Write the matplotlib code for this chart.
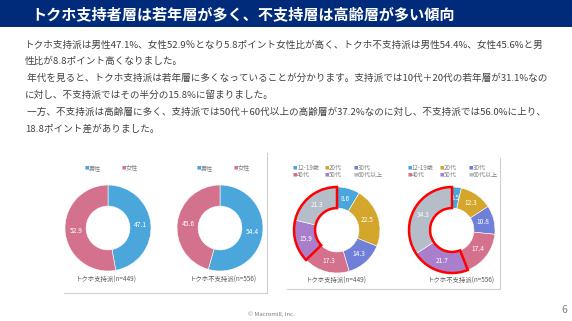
import matplotlib
matplotlib.use("Agg")
import matplotlib.pyplot as plt
from matplotlib.patches import Wedge, Rectangle
from matplotlib.lines import Line2D

plt.rcParams['font.family'] = ['Noto Sans CJK JP', 'DejaVu Sans']

# ---------------- data ----------------
title = "トクホ支持者層は若年層が多く、不支持層は高齢層が多い傾向"
body_lines = [
    "トクホ支持派は男性47.1%、女性52.9％となり5.8ポイント女性比が高く、トクホ不支持派は男性54.4%、女性45.6%と男",
    "性比が8.8ポイント高くなりました。",
    " 年代を見ると、トクホ支持派は若年層に多くなっていることが分かります。支持派では10代＋20代の若年層が31.1%なの",
    "に対し、不支持派ではその半分の15.8%に留まりました。",
    " 一方、不支持派は高齢層に多く、支持派では50代＋60代以上の高齢層が37.2%なのに対し、不支持派では56.0%に上り、",
    "18.8ポイント差がありました。",
]
gender_labels = ["男性", "女性"]
gender_support = [47.1, 52.9]
gender_nonsupport = [54.4, 45.6]
age_labels = ["12-19歳", "20代", "30代", "40代", "50代", "60代以上"]
age_support = [8.6, 22.5, 14.3, 17.3, 15.9, 21.3]
age_nonsupport = [3.5, 12.3, 10.8, 17.4, 21.7, 34.3]
group_names = ["トクホ支持派(n=449)", "トクホ不支持派(n=556)"]

gender_colors = ["#4BA6DB", "#D4718C"]
age_colors = ["#4BA6DB", "#D4A72C", "#7080D8", "#D4718C", "#A97FCC", "#B4BDC8"]

W, H = 572, 321
fig = plt.figure(figsize=(W / 100, H / 100), dpi=100)
fig.patch.set_facecolor("white")

def fx(x):
    return x / W

def fy(y):
    return 1 - y / H

# title bar
fig.patches.append(Rectangle((0, fy(27)), 1, 27 / H, transform=fig.transFigure,
                             facecolor="#002B7A", edgecolor="none", zorder=0))
fig.text(fx(31), fy(14), title, color="white", fontsize=10.9, fontweight="bold",
         va="center", ha="left")

# body text
for i, line in enumerate(body_lines):
    fig.text(fx(25), fy(45 + i * 16.8), line, color="#404040", fontsize=6.9,
             va="center", ha="left")

def donut(cx, cy, r, values, colors, highlight=None):
    ax = fig.add_axes([fx(cx - r), fy(cy + r), 2 * r / W, 2 * r / H])
    wedges, texts = ax.pie(values, colors=colors, startangle=90, counterclock=False,
                           radius=1, labels=[f"{v:.1f}" for v in values],
                           labeldistance=0.75,
                           wedgeprops=dict(width=0.49, edgecolor="white", linewidth=0.4),
                           textprops=dict(color="white", fontsize=4.8, ha="center", va="center"))
    ax.set_xlim(-1.0, 1.0)
    ax.set_ylim(-1.0, 1.0)
    ax.set_aspect("equal")
    ax.axis("off")
    for w in wedges:
        w.set_clip_on(False)
    if highlight is not None:
        t1 = min(wedges[i].theta1 for i in highlight)
        t2 = max(wedges[i].theta2 for i in highlight)
        ax.add_patch(Wedge((0, 0), 1.0, t1, t2, width=0.49, facecolor="none",
                           edgecolor="#FF0000", linewidth=1.8, zorder=5, clip_on=False))
    return ax

def legend(cx, y_rows, offsets, labels, colors):
    for k, (lab, col) in enumerate(zip(labels, colors)):
        row = k // len(offsets)
        colk = k % len(offsets)
        x = cx + offsets[colk]
        y = y_rows[row]
        fig.text(fx(x), fy(y), "■", color=col, fontsize=3.2, va="center", ha="left")
        fig.text(fx(x + 4), fy(y), lab, color="#7F7F7F", fontsize=4.4, va="center", ha="left")

# gender donuts
g_centers = [(108, 228), (220, 228)]
for (cx, cy), vals, name, lx in zip(g_centers, [gender_support, gender_nonsupport],
                                     group_names, [106, 223]):
    donut(cx, cy, 43, vals, gender_colors)
    legend(cx, [168], [-23, 14], gender_labels, gender_colors)
    fig.text(fx(lx), fy(280), name, color="#595959", fontsize=4.6, ha="center", va="center")

# age donuts
a_centers = [(337, 230), (452, 230)]
for (cx, cy), vals, name, lx in zip(a_centers, [age_support, age_nonsupport],
                                     group_names, [336, 461]):
    donut(cx, cy, 43, vals, age_colors, highlight=[4, 5])
    legend(cx, [168, 175], [-44, -12, 17], age_labels, age_colors)
    fig.text(fx(lx), fy(281), name, color="#595959", fontsize=4.6, ha="center", va="center")

# panel borders
border = "#CFCFCF"
fig.lines.append(Line2D([fx(64), fx(267)], [fy(293), fy(293)], transform=fig.transFigure,
                        color=border, linewidth=0.8))
fig.lines.append(Line2D([fx(267), fx(267)], [fy(153), fy(293)], transform=fig.transFigure,
                        color=border, linewidth=0.8))
fig.lines.append(Line2D([fx(287), fx(500)], [fy(289), fy(289)], transform=fig.transFigure,
                        color=border, linewidth=0.8))
fig.lines.append(Line2D([fx(500), fx(500)], [fy(158), fy(289)], transform=fig.transFigure,
                        color=border, linewidth=0.8))

# footer
fig.text(fx(271), fy(314), "© Macromill, Inc.", color="#7F7F7F", fontsize=4.3,
         ha="center", va="center")
fig.text(fx(564), fy(310), "6", color="#7F7F7F", fontsize=7.5, ha="center", va="center")

fig.savefig("out.png", dpi=100)
